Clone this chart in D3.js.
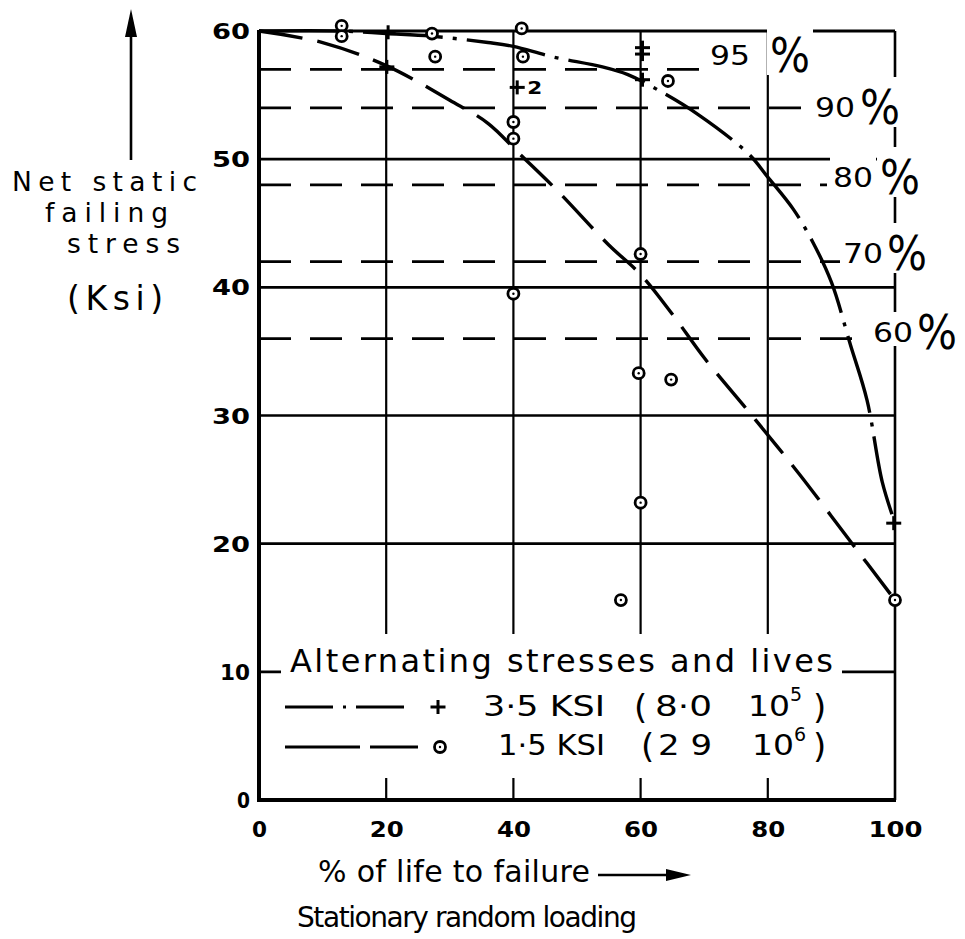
<!DOCTYPE html>
<html>
<head>
<meta charset="utf-8">
<script src="https://cdn.jsdelivr.net/npm/d3@7"></script>
<style>
  body { margin: 0; background: #fff; }
  text { font-family: "DejaVu Sans", sans-serif; fill: #000; }
</style>
</head>
<body>
<svg id="chart" width="965" height="939"></svg>
<script>
// ---- data -----------------------------------------------------------
// x: % of life to failure, y: net static failing stress (ksi)
const xTicks = [0, 20, 40, 60, 80, 100];
const yTicks = [0, 10, 20, 30, 40, 50, 60];

// residual-strength levels, % of the 60 ksi virgin strength
const levelPct = [95, 90, 80, 70, 60];

// 3.5 ksi alternating stress: faired curve (dash-dot)
const highCurveX = [0, 13, 20, 27, 36, 40, 46, 54, 58, 62, 69, 77, 80, 84, 87, 90, 93, 95.6, 98, 100];
const highCurveY = [60, 60, 59.8, 59.6, 59.1, 58.8, 58.0, 57.2, 56.6, 55.6, 53.5, 50.4, 48.6, 46.1, 43.6, 40.4, 35.5, 31.2, 24.8, 21.6];

// 1.5 ksi alternating stress: faired curve (dashed)
const lowCurveX = [0, 10, 20, 30, 36, 41, 47, 55, 60, 65, 70, 78, 85, 92.5, 100];
const lowCurveY = [60, 59.1, 57.3, 54.6, 52.8, 50.4, 47.5, 43.3, 41.0, 37.9, 34.5, 29.7, 25.4, 20.5, 15.6];

// 3.5 ksi test results (+); count > 1 marks coincident specimens
const plusX = [20.3, 20.1, 40.6, 60.3, 60.3, 60.3, 99.8];
const plusY = [59.9, 57.2, 55.6, 58.7, 58.2, 56.2, 21.6];
const plusCount = [1, 1, 2, 1, 1, 1, 1];

// 1.5 ksi test results (o)
const circleX = [13, 13, 27.2, 27.7, 41.3, 41.5, 64.3, 40, 40, 40, 60, 59.7, 64.8, 60, 56.9, 100];
const circleY = [60.4, 59.6, 59.8, 58.0, 60.2, 58.0, 56.1, 52.9, 51.6, 39.5, 42.6, 33.3, 32.8, 23.2, 15.6, 15.6];

// legend entries
const legendTitle = "Alternating stresses and lives";
const legendStress = ["3·5 KSI", "1·5 KSI"];
const legendLife = ["8·0", "2 9"];
const legendExp = ["5", "6"];

// ---- layout ---------------------------------------------------------
const svg = d3.select("#chart");
const x = d3.scaleLinear().domain([0, 100]).range([259, 895]);
const y = d3.scaleLinear().domain([0, 60]).range([800, 31]);
const ink = "#000";

// label placement for the level lines (number left edge, baseline, % offset, line end)
const levelLayout = [
  { x: 710, base: 65,  pctDx: 60, end: 715 },
  { x: 815, base: 117, pctDx: 45, end: 803 },
  { x: 833, base: 187, pctDx: 47, end: 827 },
  { x: 843, base: 263, pctDx: 44, end: 847 },
  { x: 873, base: 342, pctDx: 44, end: 866 }
];

// ---- grid -----------------------------------------------------------
const grid = svg.append("g");
grid.selectAll("line.h")
  .data(yTicks.filter(v => v > 0))
  .join("line")
  .attr("x1", x(0)).attr("x2", x(100))
  .attr("y1", d => y(d)).attr("y2", d => y(d))
  .attr("stroke", ink)
  .attr("stroke-width", d => d === 60 ? 3.2 : 2.6);

grid.selectAll("line.v")
  .data(xTicks.filter(v => v > 0))
  .join("line")
  .attr("x1", d => x(d)).attr("x2", d => x(d))
  .attr("y1", y(0)).attr("y2", y(60))
  .attr("stroke", ink)
  .attr("stroke-width", d => d === 100 ? 2.6 : 2.2);

// dashed level lines
grid.selectAll("line.level")
  .data(levelPct)
  .join("line")
  .attr("x1", x(0))
  .attr("x2", (d, i) => levelLayout[i].end)
  .attr("y1", d => y(60 * d / 100))
  .attr("y2", d => y(60 * d / 100))
  .attr("stroke", ink)
  .attr("stroke-width", 2.8)
  .attr("stroke-dasharray", "32,19");

// white knock-outs where lettering interrupts the grid
const knock = svg.append("g").attr("fill", "#fff");
levelLayout.forEach(L => {
  knock.append("rect").attr("x", L.x - 3).attr("y", L.base - 30).attr("width", 46).attr("height", 34);
  knock.append("rect").attr("x", L.x + L.pctDx - 3).attr("y", L.base - 40).attr("width", 46).attr("height", 50);
});
knock.append("rect").attr("x", 281).attr("y", 634).attr("width", 561).attr("height", 144);

// ---- axes -----------------------------------------------------------
svg.append("line")
  .attr("x1", x(0)).attr("x2", x(0)).attr("y1", y(0) + 2).attr("y2", y(60) - 1)
  .attr("stroke", ink).attr("stroke-width", 4);
svg.append("line")
  .attr("x1", x(0) - 2).attr("x2", x(100) + 1).attr("y1", y(0)).attr("y2", y(0))
  .attr("stroke", ink).attr("stroke-width", 4);

const yAxis = svg.append("g")
  .attr("transform", `translate(${x(0)},0)`)
  .call(d3.axisLeft(y).tickValues(yTicks).tickSize(0).tickPadding(9).tickFormat(d3.format("d")));
yAxis.select(".domain").remove();
yAxis.selectAll("text")
  .attr("font-family", "DejaVu Sans").attr("font-size", 21).attr("font-weight", "bold")
  .attr("fill", ink).attr("dy", "0.36em")
  .attr("lengthAdjust", "spacingAndGlyphs")
  .attr("textLength", d => d === 0 ? 13 : (String(d)[0] === "1" ? 30 : 38));

const xAxis = svg.append("g")
  .attr("transform", `translate(0,${y(0)})`)
  .call(d3.axisBottom(x).tickValues(xTicks).tickSize(0).tickPadding(22).tickFormat(d3.format("d")));
xAxis.select(".domain").remove();
xAxis.selectAll("text")
  .attr("font-family", "DejaVu Sans").attr("font-size", 21).attr("font-weight", "bold")
  .attr("fill", ink).attr("dy", "0.71em")
  .attr("lengthAdjust", "spacingAndGlyphs")
  .attr("textLength", d => d === 0 ? 15 : (d === 100 ? 54 : 34));

// ---- curves ---------------------------------------------------------
const line = d3.line().x(d => x(d[0])).y(d => y(d[1])).curve(d3.curveCatmullRom.alpha(0.5));
const highPts = highCurveX.map((v, i) => [v, highCurveY[i]]);
const lowPts = lowCurveX.map((v, i) => [v, lowCurveY[i]]);

svg.append("path").datum(highPts).attr("d", line)
  .attr("fill", "none").attr("stroke", ink).attr("stroke-width", 3.4)
  .attr("stroke-dasharray", "80,10,4,10");
svg.append("path").datum(lowPts).attr("d", line)
  .attr("fill", "none").attr("stroke", ink).attr("stroke-width", 3.4)
  .attr("stroke-dasharray", "44,15");

// ---- markers --------------------------------------------------------
function plusMark(g, cx, cy) {
  g.append("line").attr("x1", cx - 7.5).attr("x2", cx + 7.5).attr("y1", cy).attr("y2", cy)
    .attr("stroke", ink).attr("stroke-width", 3);
  g.append("line").attr("x1", cx).attr("x2", cx).attr("y1", cy - 7).attr("y2", cy + 7)
    .attr("stroke", ink).attr("stroke-width", 3);
}
function circleMark(g, cx, cy) {
  g.append("circle").attr("cx", cx).attr("cy", cy).attr("r", 5.5)
    .attr("fill", "#fff").attr("stroke", ink).attr("stroke-width", 2.8);
  g.append("circle").attr("cx", cx).attr("cy", cy).attr("r", 1.2).attr("fill", ink);
}

const marks = svg.append("g");
plusX.forEach((v, i) => {
  plusMark(marks, x(v), y(plusY[i]));
  if (plusCount[i] > 1) {
    marks.append("text").attr("x", x(v) + 10).attr("y", y(plusY[i]) + 7)
      .attr("font-size", 17).attr("font-weight", "bold")
      .attr("lengthAdjust", "spacingAndGlyphs").attr("textLength", 15)
      .text(plusCount[i]);
  }
});
circleX.forEach((v, i) => circleMark(marks, x(v), y(circleY[i])));

// ---- level labels ---------------------------------------------------
levelPct.forEach((p, i) => {
  const L = levelLayout[i];
  svg.append("text").attr("x", L.x).attr("y", L.base)
    .attr("font-size", 27).attr("lengthAdjust", "spacingAndGlyphs").attr("textLength", 40)
    .text(p);
  svg.append("text").attr("x", L.x + L.pctDx).attr("y", L.base + 7)
    .attr("font-size", 48)
    .attr("lengthAdjust", "spacingAndGlyphs").attr("textLength", 40)
    .text("%");
});

// ---- legend ---------------------------------------------------------
svg.append("text").attr("x", 290).attr("y", 672)
  .attr("font-size", 32).attr("lengthAdjust", "spacing").attr("textLength", 543)
  .text(legendTitle);

const rowY = [707, 747];
const rowBase = [716, 755];
const expBase = [701, 741];
svg.append("line").attr("x1", 285).attr("x2", 413).attr("y1", rowY[0]).attr("y2", rowY[0])
  .attr("stroke", ink).attr("stroke-width", 2.8).attr("stroke-dasharray", "48,10,3,10");
svg.append("line").attr("x1", 285).attr("x2", 418).attr("y1", rowY[1]).attr("y2", rowY[1])
  .attr("stroke", ink).attr("stroke-width", 2.8).attr("stroke-dasharray", "75,10");
plusMark(svg, 438, rowY[0]);
circleMark(svg, 440, rowY[1]);

const stressX = [483, 498], stressW = [122, 107];
const lifeX = [655, 658], lifeW = [57, 54];
const tenX = [748, 752];
const parenX = [634, 641];
legendStress.forEach((s, i) => {
  svg.append("text").attr("x", stressX[i]).attr("y", rowBase[i])
    .attr("font-size", 28).attr("lengthAdjust", "spacingAndGlyphs").attr("textLength", stressW[i])
    .text(s);
  svg.append("text").attr("x", parenX[i]).attr("y", rowBase[i] + 3)
    .attr("font-size", 34).text("(");
  svg.append("text").attr("x", lifeX[i]).attr("y", rowBase[i])
    .attr("font-size", 28).attr("lengthAdjust", "spacingAndGlyphs").attr("textLength", lifeW[i])
    .text(legendLife[i]);
  svg.append("text").attr("x", tenX[i]).attr("y", rowBase[i])
    .attr("font-size", 28).attr("lengthAdjust", "spacingAndGlyphs").attr("textLength", 42)
    .text("10");
  svg.append("text").attr("x", tenX[i] + 42).attr("y", expBase[i])
    .attr("font-size", 19).text(legendExp[i]);
  svg.append("text").attr("x", 813).attr("y", rowBase[i] + 3)
    .attr("font-size", 34).text(")");
});

// ---- axis titles ----------------------------------------------------
const yTitle = [
  { t: "Net static", x: 12, base: 191, w: 185, fs: 26.5 },
  { t: "failing", x: 45, base: 222, w: 123, fs: 26.5 },
  { t: "stress", x: 67, base: 253, w: 113, fs: 26.5 },
  { t: "(Ksi)", x: 67, base: 310, w: 96, fs: 33 }
];
yTitle.forEach(r => {
  svg.append("text").attr("x", r.x).attr("y", r.base)
    .attr("font-size", r.fs)
    .attr("lengthAdjust", "spacing").attr("textLength", r.w)
    .text(r.t);
});

// upward arrow above the y title
svg.append("line").attr("x1", 131).attr("x2", 131).attr("y1", 160).attr("y2", 30)
  .attr("stroke", ink).attr("stroke-width", 2.6);
svg.append("path").attr("d", "M131,9 L125,37 L137,37 Z").attr("fill", ink);

svg.append("text").attr("x", 318).attr("y", 882)
  .attr("font-size", 30).attr("lengthAdjust", "spacing").attr("textLength", 272)
  .text("% of life to failure");
svg.append("line").attr("x1", 598).attr("x2", 672).attr("y1", 875).attr("y2", 875)
  .attr("stroke", ink).attr("stroke-width", 2.6);
svg.append("path").attr("d", "M691,875 L666,869 L666,881 Z").attr("fill", ink);

svg.append("text").attr("x", 297).attr("y", 927)
  .attr("font-size", 28).attr("lengthAdjust", "spacing").attr("textLength", 340)
  .text("Stationary random loading");
</script>
</body>
</html>
